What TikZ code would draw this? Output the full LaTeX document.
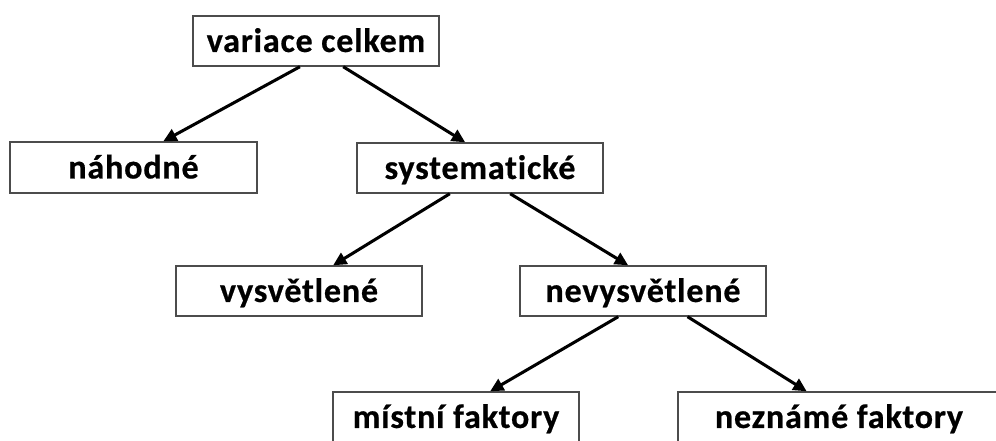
\documentclass[tikz,border=0pt]{standalone}
\usepackage{fontspec}
\setmainfont[Ligatures={NoCommon},BoldFeatures={FakeBold=0.6,LetterSpace=2.5}]{Carlito}
\usetikzlibrary{arrows.meta,calc}
\begin{document}
\begin{tikzpicture}[x=0.03cm,y=-0.03cm,
  box/.style={draw=black!70,line width=1.2pt,fill=white,minimum width=7.38cm,minimum height=1.5cm,inner sep=0pt,
    text height=22pt,text depth=3.3pt,
    font=\fontsize{29}{34}\selectfont\bfseries},
  conn/.style={line width=2.6pt,black,-{Triangle[length=0.4cm,width=0.38cm]}}]
\clip (0,0) rectangle (996,440);
\fill[white] (0,0) rectangle (996,440);
\node[box] (v) at (316,41) {variace celkem};
\node[box,minimum width=7.41cm,minimum height=1.53cm] (n) at (133.5,167.5) {náhodné};
\node[box] (s) at (480,168) {systematické};
\node[box] (vy) at (299,291) {vysvětlené};
\node[box] (ne) at (643,291) {nevysvětlené};
\node[box] (m) at (456,417) {místní faktory};
\node[box,minimum width=9.66cm] (nf) at (839,417) {neznámé faktory};
\draw[conn] ($(v.south west)!0.435!(v.south east)$) -- ($(n.north west)!0.62!(n.north east)$);
\draw[conn] ($(v.south west)!0.61!(v.south east)$) -- ($(s.north west)!0.44!(s.north east)$);
\draw[conn] ($(s.south west)!0.378!(s.south east)$) -- ($(vy.north west)!0.638!(vy.north east)$);
\draw[conn] ($(s.south west)!0.622!(s.south east)$) -- ($(ne.north west)!0.44!(ne.north east)$);
\draw[conn] ($(ne.south west)!0.40!(ne.south east)$) -- ($(m.north west)!0.638!(m.north east)$);
\draw[conn] ($(ne.south west)!0.68!(ne.south east)$) -- ($(nf.north west)!0.40!(nf.north east)$);
\end{tikzpicture}
\end{document}
